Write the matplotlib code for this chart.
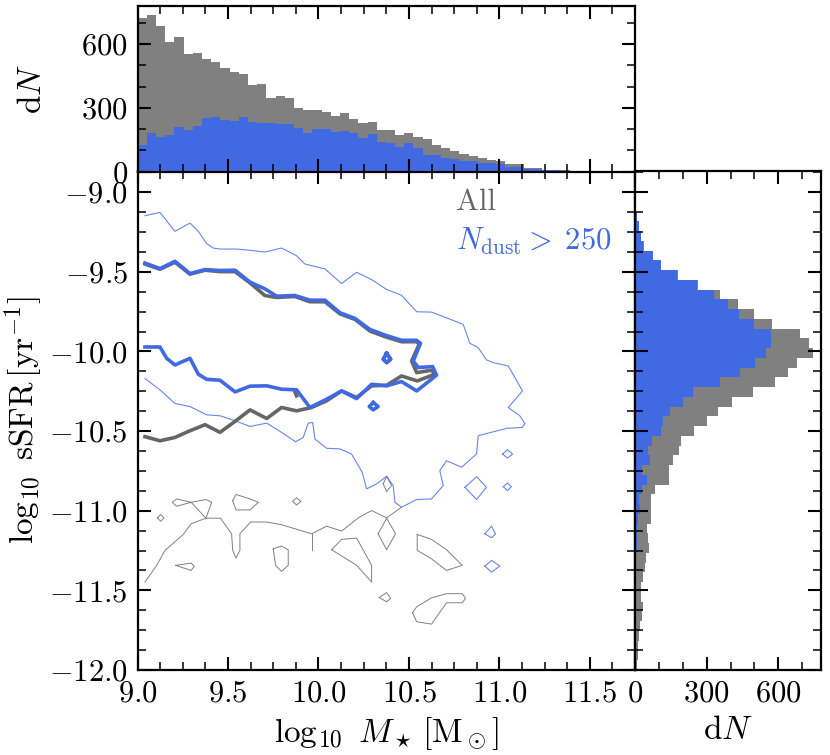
import numpy as np
import matplotlib
matplotlib.use("Agg")
import matplotlib.pyplot as plt
from matplotlib.ticker import MultipleLocator, FuncFormatter

plt.rcParams['font.family'] = ['cmr10', 'DejaVu Serif']
plt.rcParams['mathtext.fontset'] = 'cm'
plt.rcParams['axes.formatter.use_mathtext'] = True
plt.rcParams['axes.unicode_minus'] = True

# ---------------- data ----------------
mass_edges = np.linspace(9.0, 12.0, 60)
ssfr_edges = np.linspace(-12.0, -9.0, 50)

mass_all = [722, 737, 687, 612, 636, 555, 561, 530, 517, 486,
            467, 459, 406, 412, 347, 355, 347, 300, 291, 289,
            281, 264, 277, 248, 228, 233, 194, 198, 172, 180,
            164, 152, 123, 109, 98, 84, 75, 64, 56, 50,
            34, 37, 16, 17, 9, 6, 5, 4, 4, 3,
            2, 2, 1, 1, 1, 0, 0, 0, 0]
mass_dust = [125, 180, 164, 170, 209, 198, 214, 250, 256, 241,
             239, 259, 234, 227, 231, 222, 222, 205, 183, 200,
             200, 186, 189, 180, 158, 175, 137, 136, 116, 133,
             112, 80, 77, 62, 58, 52, 52, 42, 39, 34,
             23, 22, 14, 12, 8, 5, 3, 3, 2, 2,
             1, 1, 1, 0, 0, 0, 0, 0, 0]

ssfr_all = [10, 11, 13, 18, 20, 30, 32, 23, 26, 32,
            40, 44, 58, 55, 52, 66, 66, 66, 83, 142,
            142, 160, 185, 194, 248, 300, 349, 406, 494, 586,
            639, 680, 745, 727, 689, 575, 497, 431, 354, 262,
            179, 108, 77, 36, 25, 15, 7, 4, 0]
ssfr_dust = [1, 1, 1, 2, 2, 3, 3, 4, 4, 5,
             5, 6, 7, 8, 8, 13, 20, 15, 30, 51,
             30, 61, 54, 72, 108, 117, 145, 201, 244, 354,
             441, 501, 548, 569, 569, 497, 434, 390, 330, 259,
             177, 107, 76, 35, 24, 15, 7, 4, 0]

# contour traces (log M*, log sSFR)
dust_inner = [(9.041, -9.445), (9.124, -9.480), (9.207, -9.434), (9.290, -9.511), (9.373, -9.486),
              (9.456, -9.492), (9.539, -9.490), (9.622, -9.565), (9.704, -9.607), (9.769, -9.653),
              (9.870, -9.649), (9.953, -9.678), (10.036, -9.678), (10.119, -9.757), (10.202, -9.793),
              (10.285, -9.862), (10.367, -9.897), (10.459, -9.930), (10.543, -9.930), (10.564, -9.949),
              (10.524, -10.060), (10.552, -10.101), (10.631, -10.095), (10.653, -10.149), (10.543, -10.248),
              (10.459, -10.189), (10.377, -10.216), (10.294, -10.206), (10.211, -10.296), (10.128, -10.248),
              (10.045, -10.300), (9.953, -10.352), (9.879, -10.241), (9.796, -10.237), (9.714, -10.216),
              (9.622, -10.218), (9.539, -10.254), (9.456, -10.181), (9.382, -10.175), (9.336, -10.143),
              (9.290, -10.043), (9.207, -10.085), (9.161, -10.043), (9.124, -9.972), (9.041, -9.972)]
dust_inner_isl1 = [(10.377, -10.012), (10.399, -10.049), (10.377, -10.070), (10.358, -10.049), (10.377, -10.012)]
dust_inner_isl2 = [(10.303, -10.321), (10.330, -10.346), (10.303, -10.367), (10.281, -10.346), (10.303, -10.321)]

all_inner = [(9.041, -9.451), (9.124, -9.484), (9.207, -9.440), (9.290, -9.515), (9.373, -9.490),
             (9.456, -9.499), (9.539, -9.499), (9.622, -9.570), (9.704, -9.649), (9.769, -9.661),
             (9.870, -9.655), (9.953, -9.688), (10.036, -9.688), (10.119, -9.764), (10.202, -9.799),
             (10.285, -9.872), (10.367, -9.907), (10.459, -9.939), (10.543, -9.939), (10.557, -9.955),
             (10.515, -10.060), (10.543, -10.133), (10.625, -10.118), (10.644, -10.143), (10.546, -10.185),
             (10.459, -10.154), (10.377, -10.212), (10.294, -10.216), (10.211, -10.289), (10.128, -10.248),
             (10.045, -10.310), (9.962, -10.352), (9.879, -10.373), (9.796, -10.352), (9.714, -10.421),
             (9.622, -10.367), (9.539, -10.439), (9.456, -10.508), (9.373, -10.460), (9.290, -10.498),
             (9.207, -10.540), (9.124, -10.561), (9.041, -10.535)]
all_inner_isl1 = [(10.377, -10.012), (10.399, -10.049), (10.377, -10.070), (10.358, -10.049), (10.377, -10.012)]
all_inner_isl2 = [(9.870, -10.254), (9.879, -10.279)]

dust_outer = [(9.041, -9.148), (9.124, -9.127), (9.207, -9.246), (9.290, -9.194), (9.336, -9.246),
              (9.382, -9.323), (9.419, -9.351), (9.456, -9.357), (9.548, -9.357), (9.622, -9.365),
              (9.704, -9.376), (9.796, -9.351), (9.879, -9.399), (9.925, -9.451), (10.036, -9.482),
              (10.128, -9.574), (10.211, -9.503), (10.294, -9.549), (10.377, -9.611), (10.459, -9.647),
              (10.543, -9.751), (10.625, -9.753), (10.708, -9.789), (10.800, -9.830), (10.837, -9.949),
              (10.883, -9.976), (10.929, -10.053), (10.966, -10.070), (11.049, -10.091), (11.128, -10.248),
              (11.049, -10.352), (11.113, -10.404), (11.141, -10.452), (11.128, -10.477), (11.040, -10.483),
              (10.883, -10.529), (10.874, -10.644), (10.791, -10.727), (10.708, -10.686), (10.671, -10.748),
              (10.690, -10.842), (10.625, -10.926), (10.543, -10.930), (10.459, -10.978), (10.423, -10.947),
              (10.413, -10.842), (10.377, -10.784), (10.321, -10.832), (10.266, -10.863), (10.242, -10.759),
              (10.183, -10.644), (10.119, -10.612), (10.045, -10.608), (9.981, -10.550), (9.968, -10.446),
              (9.944, -10.450), (9.916, -10.540), (9.874, -10.567), (9.796, -10.508), (9.714, -10.450),
              (9.622, -10.471), (9.539, -10.435), (9.456, -10.404), (9.382, -10.398), (9.290, -10.346),
              (9.207, -10.327), (9.124, -10.241), (9.041, -10.170)]
dust_outer_isl1 = [(11.018, -10.644), (11.045, -10.617), (11.073, -10.644), (11.045, -10.669), (11.018, -10.644)]
dust_outer_isl2 = [(10.810, -10.853), (10.874, -10.786), (10.929, -10.853), (10.874, -10.930), (10.810, -10.853)]
dust_outer_isl3 = [(11.022, -10.849), (11.045, -10.826), (11.067, -10.849), (11.045, -10.874), (11.022, -10.849)]
dust_outer_isl4 = [(10.920, -11.145), (10.957, -11.097), (10.979, -11.145), (10.957, -11.170), (10.920, -11.145)]
dust_outer_isl5 = [(10.920, -11.348), (10.957, -11.312), (11.003, -11.348), (10.957, -11.385), (10.920, -11.348)]

all_outer = [(9.041, -11.448), (9.106, -11.343), (9.152, -11.249), (9.253, -11.149), (9.296, -11.082),
             (9.378, -11.047), (9.459, -11.047), (9.520, -11.145), (9.526, -11.249), (9.544, -11.297),
             (9.566, -11.249), (9.566, -11.145), (9.625, -11.071), (9.714, -11.071), (9.796, -11.088),
             (9.962, -11.145), (10.045, -11.097), (10.128, -11.128), (10.220, -11.045), (10.294, -10.999),
             (10.377, -11.045), (10.459, -10.978)]
all_outer_isl1 = [(9.378, -11.047), (9.410, -10.947), (9.378, -10.930), (9.296, -10.947), (9.216, -10.926),
                  (9.192, -10.947), (9.216, -10.972), (9.296, -10.947), (9.378, -11.047)]
all_outer_isl2 = [(9.962, -11.145), (9.962, -11.249)]
all_outer_isl3 = [(9.110, -11.045), (9.128, -11.024), (9.146, -11.045), (9.128, -11.066), (9.110, -11.045)]
all_outer_isl4 = [(9.211, -11.343), (9.296, -11.329), (9.314, -11.348), (9.296, -11.375), (9.211, -11.343)]
all_outer_isl5 = [(9.526, -10.936), (9.544, -10.898), (9.622, -10.926), (9.668, -10.947), (9.622, -10.995),
                  (9.544, -10.995), (9.526, -10.936)]
all_outer_isl6 = [(9.857, -10.942), (9.879, -10.919), (9.903, -10.942), (9.879, -10.964), (9.857, -10.942)]
all_outer_isl7 = [(9.750, -11.239), (9.796, -11.222), (9.833, -11.245), (9.833, -11.343), (9.796, -11.381),
                  (9.763, -11.343), (9.750, -11.239)]
all_outer_isl8 = [(10.073, -11.245), (10.128, -11.180), (10.211, -11.172), (10.252, -11.256), (10.294, -11.343),
                  (10.294, -11.448), (10.211, -11.343), (10.073, -11.245)]
all_outer_isl9 = [(10.330, -11.145), (10.377, -11.047), (10.426, -11.145), (10.377, -11.245), (10.330, -11.145)]
all_outer_isl10 = [(10.546, -11.149), (10.625, -11.180), (10.708, -11.245), (10.795, -11.343), (10.708, -11.375),
                   (10.625, -11.302), (10.546, -11.249), (10.546, -11.149)]
all_outer_isl11 = [(10.336, -11.545), (10.377, -11.514), (10.399, -11.551), (10.377, -11.572), (10.336, -11.545)]
all_outer_isl12 = [(10.520, -11.641), (10.543, -11.603), (10.625, -11.547), (10.708, -11.521), (10.795, -11.521),
                   (10.813, -11.551), (10.795, -11.578), (10.708, -11.578), (10.625, -11.712), (10.543, -11.697),
                   (10.520, -11.641)]
all_outer_isl13 = [(10.358, -10.832), (10.377, -10.784), (10.404, -10.842), (10.377, -10.880), (10.358, -10.832)]

label_all = 'All'
label_dust = r'$N_\mathrm{dust} >\;250$'

# ---------------- styling ----------------
BLUE = '#4169E1'
GREY = '#808080'
DGREY = '#666666'

fig = plt.figure(figsize=(8.3, 7.55), dpi=100)
ax = fig.add_axes([0.1657, 0.1126, 0.5994, 0.6603])
axt = fig.add_axes([0.1657, 0.7728, 0.5994, 0.2192], sharex=ax)
axr = fig.add_axes([0.7651, 0.1126, 0.2245, 0.6603], sharey=ax)

# histograms
axt.stairs(mass_all, mass_edges, fill=True, color=GREY, lw=0)
axt.stairs(mass_dust, mass_edges, fill=True, color=BLUE, lw=0)
axr.stairs(ssfr_all, ssfr_edges, fill=True, color=GREY, lw=0, orientation='horizontal')
axr.stairs(ssfr_dust, ssfr_edges, fill=True, color=BLUE, lw=0, orientation='horizontal')


def draw(path, **kw):
    arr = np.array(path)
    ax.plot(arr[:, 0], arr[:, 1], solid_joinstyle='round', **kw)


for p in (all_outer, all_outer_isl1, all_outer_isl2, all_outer_isl3, all_outer_isl4, all_outer_isl5,
          all_outer_isl6, all_outer_isl7, all_outer_isl8, all_outer_isl9, all_outer_isl10,
          all_outer_isl11, all_outer_isl12, all_outer_isl13):
    draw(p, color=GREY, lw=0.7)
for p in (dust_outer, dust_outer_isl1, dust_outer_isl2, dust_outer_isl3, dust_outer_isl4, dust_outer_isl5):
    draw(p, color=BLUE, lw=0.8, alpha=0.8)
for p in (all_inner, all_inner_isl1, all_inner_isl2):
    draw(p, color=DGREY, lw=2.6)
for p in (dust_inner, dust_inner_isl1, dust_inner_isl2):
    draw(p, color=BLUE, lw=2.6)

ax.text(0.640, 0.923, label_all, transform=ax.transAxes, color=DGREY, fontsize=22, va='baseline')
ax.text(0.640, 0.8425, label_dust, transform=ax.transAxes, color=BLUE, fontsize=22, va='baseline')

ax.set_xlim(9.0, 11.75)
ax.set_ylim(-12.0, -8.87)
axt.set_ylim(0, 780)
axr.set_xlim(0, 780)

for a in (ax, axt, axr):
    a.tick_params(which='both', direction='in', top=True, right=True, labelsize=22, pad=7)
    a.tick_params(which='major', length=9.5, width=1.5)
    a.tick_params(which='minor', length=6.0, width=1.1)
    for s in a.spines.values():
        s.set_linewidth(1.6)

fmt1 = FuncFormatter(lambda v, p: r'$%.1f$' % v)
fmt0 = FuncFormatter(lambda v, p: r'$%d$' % round(v))
ax.xaxis.set_major_locator(MultipleLocator(0.5))
ax.xaxis.set_minor_locator(MultipleLocator(0.125))
ax.yaxis.set_major_locator(MultipleLocator(0.5))
ax.yaxis.set_minor_locator(MultipleLocator(0.125))
ax.xaxis.set_major_formatter(fmt1)
ax.yaxis.set_major_formatter(fmt1)
axt.yaxis.set_major_locator(MultipleLocator(300))
axt.yaxis.set_minor_locator(MultipleLocator(100))
axt.yaxis.set_major_formatter(fmt0)
axr.xaxis.set_major_locator(MultipleLocator(300))
axr.xaxis.set_minor_locator(MultipleLocator(100))
axr.xaxis.set_major_formatter(fmt0)

axt.tick_params(labelbottom=False)
axr.tick_params(labelleft=False)

ax.set_xlabel(r'$\log_{10}\ M_\star\,[\mathrm{M}_\odot]$', fontsize=24, labelpad=6)
ax.set_ylabel(r'$\log_{10}\ \mathrm{sSFR}\,[\mathrm{yr}^{-1}]$', fontsize=24)
ax.yaxis.set_label_coords(-0.186, 0.5)
axt.set_ylabel(r'$\mathrm{d}N$', fontsize=24)
axt.yaxis.set_label_coords(-0.182, 0.5)
axr.set_xlabel(r'$\mathrm{d}N$', fontsize=24, labelpad=6)

fig.savefig('out.png', dpi=100)
